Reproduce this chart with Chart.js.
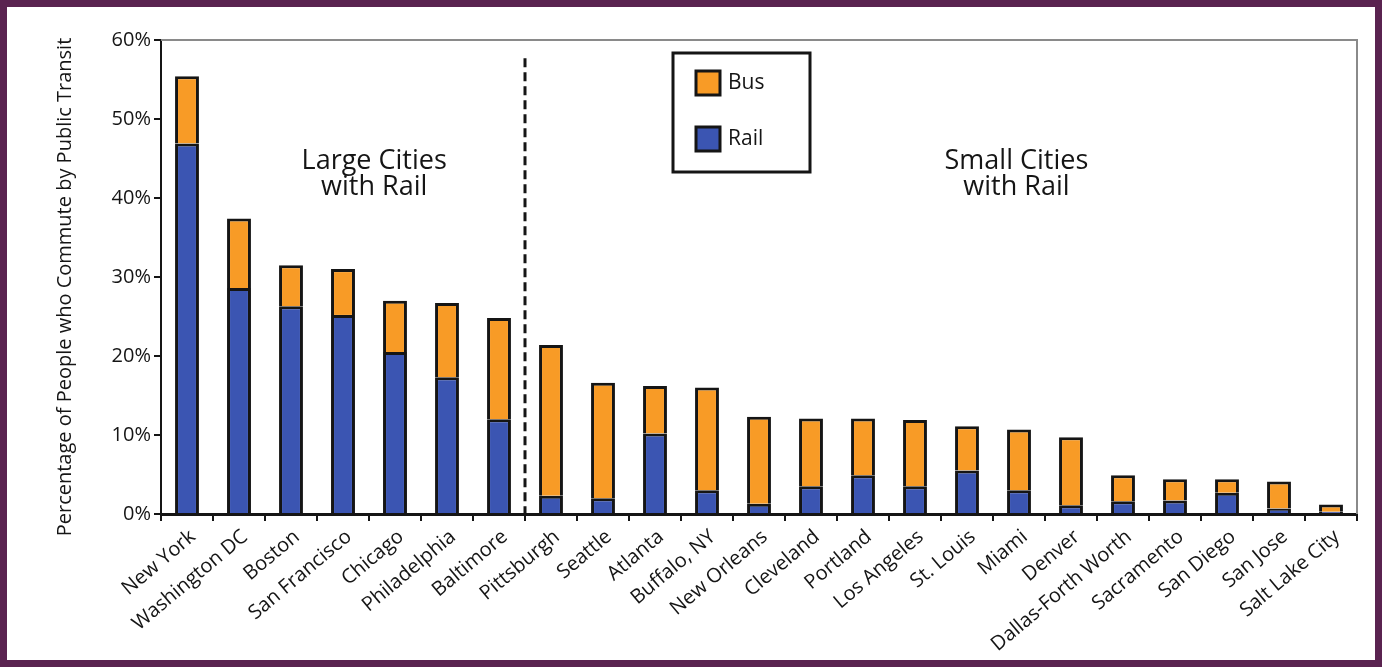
<!DOCTYPE html>
<html>
<head>
<meta charset="utf-8">
<script src="https://cdn.jsdelivr.net/npm/chart.js@4.4.1/dist/chart.umd.min.js"></script>
<style>
  html, body { margin: 0; padding: 0; background: #ffffff; }
  #wrap { position: relative; width: 1382px; height: 667px; }
</style>
</head>
<body>
<div id="wrap"><canvas id="c"></canvas></div>
<script>
const cities = ["New York", "Washington DC", "Boston", "San Francisco", "Chicago", "Philadelphia", "Baltimore",
  "Pittsburgh", "Seattle", "Atlanta", "Buffalo, NY", "New Orleans", "Cleveland", "Portland", "Los Angeles",
  "St. Louis", "Miami", "Denver", "Dallas-Forth Worth", "Sacramento", "San Diego", "San Jose", "Salt Lake City"];
const railShare = [46.9, 28.6, 26.3, 25.2, 20.5, 17.3, 12.0, 2.3, 2.0, 10.2, 3.0, 1.3, 3.5, 4.9, 3.5, 5.5, 3.0, 1.1, 1.6, 1.7, 2.7, 0.7, 0.3];
const busShare  = [8.5, 8.8, 5.2, 5.8, 6.5, 9.4, 12.8, 19.1, 14.6, 6.0, 13.0, 11.0, 8.6, 7.2, 8.4, 5.6, 7.7, 8.6, 3.3, 2.7, 1.7, 3.4, 0.9];
const yMax = 60;
const yStep = 10;
const groupLabels = [["Large Cities", "with Rail"], ["Small Cities", "with Rail"]];
const groupSplitAfter = 6; // Baltimore is the last large city
const yTitle = "Percentage of People who Commute by Public Transit";

const FONT = "'Open Sans', 'Noto Sans', sans-serif";
const ORANGE = "#f89b26";
const BLUE = "#3b55b2";
const MAROON = "#5a2350";
const INK = "#151515";

const decor = {
  id: "decor",
  beforeDraw(chart) {
    const ctx = chart.ctx;
    ctx.save();
    ctx.fillStyle = "#ffffff";
    ctx.fillRect(0, 0, chart.width, chart.height);
    ctx.restore();
  },
  afterDatasetsDraw(chart) {
    const ctx = chart.ctx;
    const ca = chart.chartArea;
    const x = chart.scales.x, y = chart.scales.y;
    ctx.save();
    // top and right frame (grey)
    ctx.strokeStyle = "#8a8a8a";
    ctx.lineWidth = 2;
    ctx.beginPath();
    ctx.moveTo(ca.left, ca.top);
    ctx.lineTo(ca.right, ca.top);
    ctx.lineTo(ca.right, ca.bottom);
    ctx.stroke();

    // dashed divider between groups
    const xs = Math.round((x.getPixelForValue(groupSplitAfter) + x.getPixelForValue(groupSplitAfter + 1)) / 2);
    ctx.strokeStyle = INK;
    ctx.lineWidth = 3;
    ctx.setLineDash([9, 5]);
    ctx.beginPath();
    ctx.moveTo(xs, y.getPixelForValue(57.7));
    ctx.lineTo(xs, ca.bottom);
    ctx.stroke();
    ctx.setLineDash([]);

    // group annotations
    ctx.fillStyle = INK;
    ctx.font = "27px " + FONT;
    ctx.textAlign = "center";
    ctx.textBaseline = "middle";
    const gx = [x.getPixelForValue(3.6), x.getPixelForValue(15.95)];
    groupLabels.forEach((lines, i) => {
      ctx.fillText(lines[0], gx[i], y.getPixelForValue(44.6));
      ctx.fillText(lines[1], gx[i], y.getPixelForValue(41.3));
    });

    // legend box
    const lx = 673, ly = 53, lw = 137, lh = 119;
    ctx.strokeStyle = INK;
    ctx.lineWidth = 3;
    ctx.strokeRect(lx, ly, lw, lh);
    const items = [chart.data.datasets[1], chart.data.datasets[0]];
    const rowY = [83, 139];
    ctx.font = "500 21px " + FONT;
    ctx.textAlign = "left";
    items.forEach((ds, i) => {
      ctx.fillStyle = ds.backgroundColor;
      ctx.fillRect(696, rowY[i] - 12, 24, 24);
      ctx.strokeStyle = INK;
      ctx.lineWidth = 3;
      ctx.strokeRect(696, rowY[i] - 12, 24, 24);
      ctx.fillStyle = INK;
      ctx.fillText(ds.label, 728, rowY[i]);
    });

    // y axis title
    ctx.save();
    ctx.translate(65, 287);
    ctx.rotate(-Math.PI / 2);
    ctx.font = "20px " + FONT;
    ctx.fillStyle = INK;
    ctx.textAlign = "center";
    ctx.textBaseline = "middle";
    ctx.fillText(yTitle, 0, 0);
    ctx.restore();

    ctx.restore();
  },
  afterDraw(chart) {
    const ctx = chart.ctx;
    ctx.save();
    ctx.strokeStyle = MAROON;
    ctx.lineWidth = 7;
    ctx.strokeRect(3.5, 3.5, chart.width - 7, chart.height - 7);
    ctx.restore();
  }
};

new Chart(document.getElementById("c"), {
  type: "bar",
  data: {
    labels: cities,
    datasets: [
      { label: "Rail", data: railShare, backgroundColor: BLUE, borderColor: INK,
        borderWidth: { top: 3, left: 3, right: 3, bottom: 0 }, borderSkipped: false, inflateAmount: 0 },
      { label: "Bus", data: busShare, backgroundColor: ORANGE, borderColor: INK,
        borderWidth: { top: 3, left: 3, right: 3, bottom: 0 }, borderSkipped: false, inflateAmount: 0 }
    ]
  },
  options: {
    responsive: true,
    maintainAspectRatio: false,
    devicePixelRatio: 1,
    animation: false,
    datasets: { bar: { barPercentage: 0.46, categoryPercentage: 1.0 } },
    layout: { padding: { left: 0, top: 40, right: 25, bottom: 0 } },
    plugins: { legend: { display: false }, tooltip: { enabled: false } },
    scales: {
      x: {
        stacked: true,
        afterFit(s) { s.height = 153; },
        grid: { offset: true, drawOnChartArea: false, drawTicks: true, tickLength: 7, color: INK, lineWidth: 2 },
        border: { display: true, color: INK, width: 3 },
        ticks: {
          autoSkip: false, minRotation: 40, maxRotation: 40, padding: 4, labelOffset: 6,
          color: INK, font: { family: FONT, size: 20 }
        }
      },
      y: {
        stacked: true,
        min: 0, max: yMax,
        afterFit(s) { s.width = 161; },
        grid: { drawOnChartArea: false, drawTicks: true, tickLength: 7, color: INK, lineWidth: 2 },
        border: { display: true, color: INK, width: 2 },
        ticks: {
          stepSize: yStep, padding: 3, color: INK,
          font: { family: FONT, size: 20 },
          callback: v => v + "%"
        }
      }
    }
  },
  plugins: [decor]
});
</script>
</body>
</html>
